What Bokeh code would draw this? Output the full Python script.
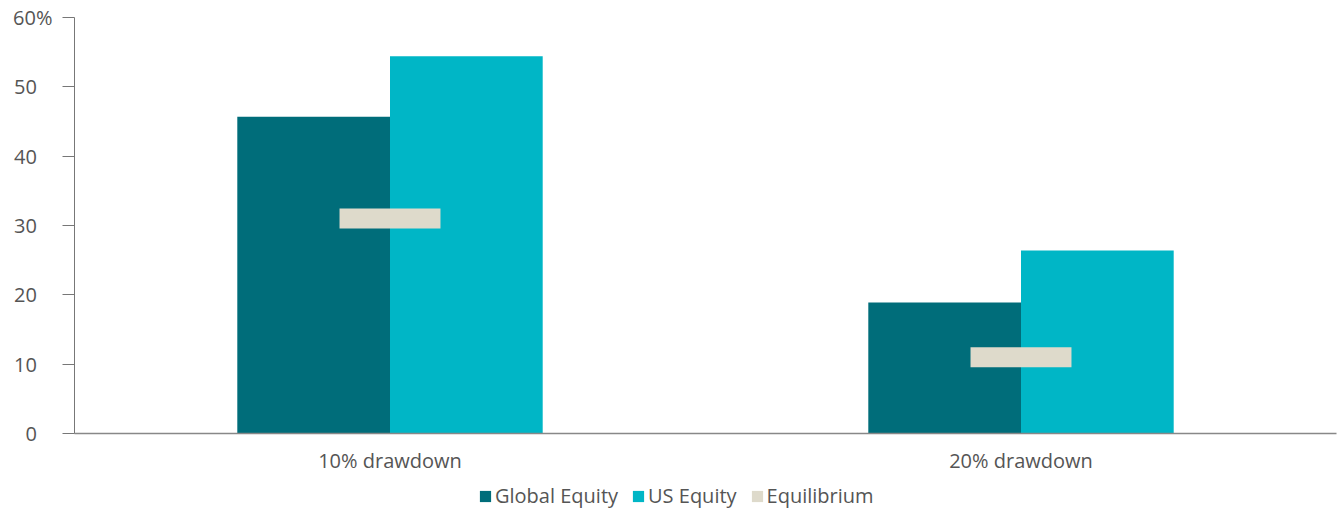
from bokeh.plotting import figure
from bokeh.layouts import column
from bokeh.models import Range1d, FactorRange, FixedTicker, Legend, LegendItem, ColumnDataSource
from bokeh.transform import dodge
from bokeh.embed import file_html
from bokeh.resources import INLINE

categories = ["10% drawdown", "20% drawdown"]
global_equity = [45.7, 18.9]
us_equity = [54.4, 26.4]
equilibrium = [31.0, 11.0]
y_ticks = [0, 10, 20, 30, 40, 50, 60]
y_tick_labels = ["0", "10", "20", "30", "40", "50", "60%"]
series_names = ["Global Equity", "US Equity", "Equilibrium"]
colors = ["#006D7A", "#00B6C6", "#DEDACB"]

src = ColumnDataSource(dict(cat=categories, ge=global_equity, us=us_equity, eq=equilibrium))

FONT = "Open Sans"
TXT = "#555555"
FS = "20px"
PAD = "\u00a0\u00a0\u00a0"

p = figure(width=1339, height=480, x_range=FactorRange(*categories), y_range=Range1d(0, 60),
           output_backend="svg", toolbar_location=None,
           min_border_left=74, min_border_right=3, min_border_top=17, min_border_bottom=47)
p.outline_line_color = None
p.xgrid.grid_line_color = None
p.ygrid.grid_line_color = None
p.x_range.range_padding = 0

bw = 0.242
p.vbar(x=dodge("cat", -bw / 2, range=p.x_range), top="ge", width=bw, source=src,
       fill_color=colors[0], line_color=None)
p.vbar(x=dodge("cat", bw / 2, range=p.x_range), top="us", width=bw, source=src,
       fill_color=colors[1], line_color=None)
p.rect(x="cat", y="eq", width=0.16, height=20, height_units="screen", source=src,
       fill_color=colors[2], line_color=None)

p.yaxis.ticker = FixedTicker(ticks=y_ticks)
p.yaxis.major_label_overrides = {t: (lab if lab.endswith("%") else lab + PAD)
                                 for t, lab in zip(y_ticks, y_tick_labels)}
p.yaxis.axis_line_color = "#777777"
p.yaxis.major_tick_line_color = "#777777"
p.yaxis.major_tick_out = 12
p.yaxis.major_tick_in = 0
p.yaxis.minor_tick_line_color = None
p.yaxis.major_label_standoff = 10
for ax in (p.xaxis, p.yaxis):
    ax.major_label_text_font = FONT
    ax.major_label_text_font_size = FS
    ax.major_label_text_color = TXT
p.xaxis.axis_line_color = "#888888"
p.xaxis.axis_line_width = 1.5
p.xaxis.major_tick_line_color = None
p.xaxis.major_tick_out = 0
p.xaxis.major_tick_in = 0
p.xaxis.major_label_standoff = 13

# legend strip (its frame is aligned with the main plot's frame in the column)
lg = figure(width=1339, height=29, x_range=Range1d(0, 1), y_range=Range1d(0, 1),
            output_backend="svg", toolbar_location=None,
            min_border_left=0, min_border_right=0, min_border_top=0, min_border_bottom=0)
lg.outline_line_color = None
lg.axis.visible = False
lg.grid.visible = False
dummy = ColumnDataSource(dict(x=[-10], y=[-10]))
rs = [lg.rect(x="x", y="y", width=0, height=0, source=dummy, fill_color=c, line_color=None)
      for c in colors]
legend = Legend(items=[LegendItem(label=n, renderers=[r]) for n, r in zip(series_names, rs)],
                orientation="horizontal", location=(404, 0),
                glyph_width=14, glyph_height=14, label_standoff=3, spacing=13,
                label_text_font=FONT, label_text_font_size=FS, label_text_color=TXT,
                border_line_color=None, background_fill_alpha=0, padding=2, margin=0)
lg.add_layout(legend, "center")

layout = column(p, lg, spacing=0)
open("out.html", "w").write(file_html(layout, INLINE))
